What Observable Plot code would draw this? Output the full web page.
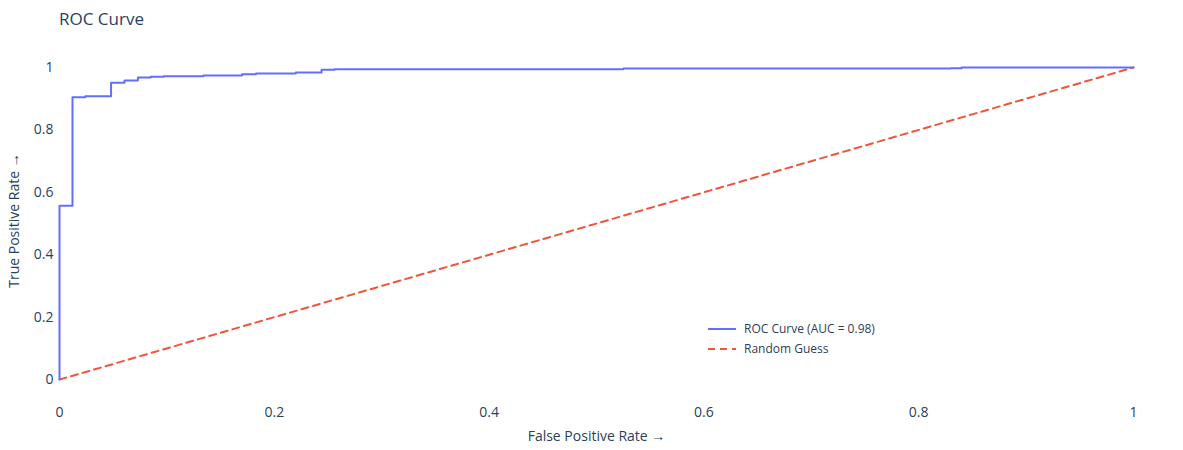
<!DOCTYPE html>
<html><head><meta charset="utf-8">
<script src="https://cdn.jsdelivr.net/npm/d3@7"></script>
<script src="https://cdn.jsdelivr.net/npm/@observablehq/plot@0.6"></script>
<style>
body{margin:0;background:#fff;font-family:"Open Sans",sans-serif;}
#wrap{position:relative;width:1183px;height:450px;}
#title{position:absolute;left:59px;top:7px;font-size:17px;color:#2a3f5f;}
.leg{position:absolute;left:708px;font-size:12px;color:#2a3f5f;display:flex;align-items:center;}
</style></head><body>
<div id="wrap"><div id="title">ROC Curve</div>
<div class="leg" style="top:320px"><svg width="30" height="10"><line x1="0" x2="28" y1="5" y2="5" stroke="#636efa" stroke-width="2"/></svg><span style="margin-left:6px">ROC Curve (AUC = 0.98)</span></div>
<div class="leg" style="top:340px"><svg width="30" height="10"><line x1="0" x2="28" y1="5" y2="5" stroke="#ef553b" stroke-width="2" stroke-dasharray="7,5"/></svg><span style="margin-left:6px">Random Guess</span></div>
</div>
<script>
const fpr = [0, 0, 0.0121, 0.0121, 0.024, 0.048, 0.048, 0.0605, 0.073, 0.085, 0.097, 0.134, 0.170, 0.183, 0.220, 0.244, 0.256, 0.525, 0.61, 0.83, 0.84, 0.925, 1];
const tpr = [0, 0.557, 0.557, 0.900, 0.905, 0.908, 0.928, 0.951, 0.958, 0.968, 0.970, 0.972, 0.974, 0.978, 0.981, 0.984, 0.993, 0.994, 0.997, 0.997, 0.998, 1.0, 1.0];
const guessX = [0, 1];
const guessY = [0, 1];
const xTicks = [0, 0.2, 0.4, 0.6, 0.8, 1];
const yTicks = [0, 0.2, 0.4, 0.6, 0.8, 1];
const roc = fpr.map((f, i) => ({f, t: tpr[i]}));
const guess = guessX.map((g, i) => ({f: g, t: guessY[i]}));
const plot = Plot.plot({
  width: 1183, height: 450,
  marginLeft: 59, marginRight: 50, marginTop: 45, marginBottom: 55,
  style: {fontFamily: "Open Sans, sans-serif", fontSize: "12px", color: "#2a3f5f", background: "#fff"},
  x: {domain: [0, 1], ticks: xTicks, tickFormat: d => String(d), tickSize: 0, tickPadding: 12, label: "False Positive Rate", labelAnchor: "center", labelOffset: 45},
  y: {domain: [-0.051, 1.0705], ticks: yTicks, tickFormat: d => String(d), tickSize: 0, tickPadding: 6, label: "True Positive Rate", labelAnchor: "center", labelOffset: 50},
  marks: [
    Plot.line(guess, {x: "f", y: "t", stroke: "#ef553b", strokeWidth: 2, strokeDasharray: "7,5"}),
    Plot.line(roc, {x: "f", y: "t", stroke: "#636efa", strokeWidth: 2, curve: "step-before"})
  ]
});
plot.style.position = "absolute"; plot.style.left = "0"; plot.style.top = "0";
plot.querySelectorAll("g[aria-label$='label'] text, g[aria-label$='label']").forEach(e => e.style.fontSize = "14px");
document.getElementById("wrap").prepend(plot);
</script>
</body></html>
